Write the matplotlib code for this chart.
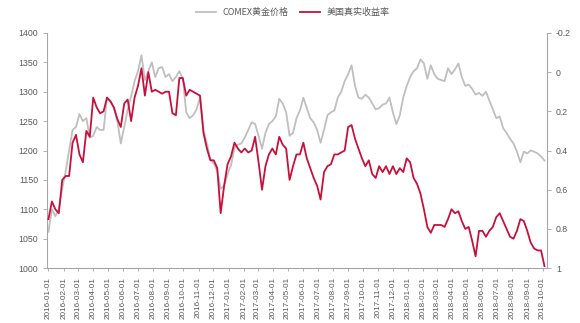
import pandas as pd
import matplotlib
matplotlib.use('Agg')
import matplotlib.pyplot as plt
import matplotlib.dates as mdates
from matplotlib.ticker import FuncFormatter

plt.rcParams['font.family'] = ['Liberation Sans', 'Noto Sans CJK SC', 'DejaVu Sans']

# weekly observations, 2016-01-01 .. 2018-10-05
dates = pd.date_range('2016-01-01', '2018-10-05', freq='7D')

gold = [
    1062, 1100, 1088, 1100, 1135, 1165, 1200, 1235, 1240, 1262,
    1250, 1255, 1222, 1225, 1240, 1235, 1235, 1290, 1285, 1272,
    1250, 1212, 1240, 1270, 1292, 1318, 1335, 1362, 1320, 1335,
    1350, 1325, 1340, 1342, 1325, 1330, 1318, 1325, 1335, 1322,
    1265, 1255, 1260, 1270, 1290, 1235, 1212, 1185, 1178, 1165,
    1135, 1140, 1160, 1175, 1205, 1210, 1212, 1222, 1235, 1248,
    1245, 1225, 1203, 1230, 1245, 1250, 1258, 1288, 1280, 1265,
    1225, 1230, 1255, 1268, 1290, 1272, 1255, 1248, 1235, 1213,
    1235, 1260, 1265, 1268, 1290, 1300, 1318, 1330, 1345, 1310,
    1290, 1288, 1295, 1290, 1280, 1270, 1272, 1278, 1280, 1290,
    1265, 1245, 1260, 1290, 1310, 1325, 1335, 1340, 1355, 1348,
    1322, 1345, 1330, 1322, 1320, 1318, 1340, 1330, 1338, 1348,
    1325, 1310, 1312, 1305, 1295, 1298, 1293, 1300, 1285, 1270,
    1255, 1258, 1238, 1230, 1220, 1212, 1198, 1180, 1198, 1195,
    1200, 1198, 1195, 1190, 1183,
]

real_yield = [
    0.75, 0.66, 0.70, 0.72, 0.55, 0.53, 0.53, 0.36, 0.32, 0.42,
    0.46, 0.30, 0.33, 0.13, 0.18, 0.21, 0.20, 0.13, 0.15, 0.18,
    0.24, 0.28, 0.16, 0.14, 0.25, 0.13, 0.07, -0.02, 0.12, 0.00,
    0.10, 0.09, 0.10, 0.11, 0.10, 0.10, 0.21, 0.22, 0.03, 0.03,
    0.12, 0.09, 0.10, 0.11, 0.12, 0.31, 0.39, 0.45, 0.45, 0.49,
    0.72, 0.58, 0.47, 0.43, 0.36, 0.39, 0.41, 0.39, 0.41, 0.40,
    0.33, 0.46, 0.60, 0.48, 0.42, 0.39, 0.42, 0.33, 0.37, 0.39,
    0.55, 0.48, 0.42, 0.42, 0.36, 0.44, 0.49, 0.54, 0.58, 0.65,
    0.51, 0.48, 0.47, 0.42, 0.42, 0.41, 0.40, 0.28, 0.27, 0.34,
    0.39, 0.44, 0.48, 0.45, 0.52, 0.54, 0.48, 0.51, 0.48, 0.52,
    0.48, 0.52, 0.49, 0.51, 0.44, 0.46, 0.54, 0.57, 0.62, 0.70,
    0.79, 0.82, 0.78, 0.78, 0.78, 0.79, 0.75, 0.70, 0.72, 0.71,
    0.76, 0.80, 0.79, 0.86, 0.94, 0.81, 0.81, 0.84, 0.81, 0.79,
    0.74, 0.72, 0.76, 0.80, 0.84, 0.85, 0.81, 0.75, 0.76, 0.81,
    0.87, 0.90, 0.91, 0.91, 0.99,
]

gold_label = 'COMEX黄金价格'
yield_label = '美国真实收益率'
left_ticks = [1000, 1050, 1100, 1150, 1200, 1250, 1300, 1350, 1400]
right_ticks = [-0.2, 0, 0.2, 0.4, 0.6, 0.8, 1]

grey_txt = '#595959'
spine_col = '#a6a6a6'

fig = plt.figure(figsize=(5.8, 3.23), dpi=100)
ax = fig.add_axes([0.081, 0.170, 0.862, 0.728])
ax2 = ax.twinx()

l1, = ax.plot(dates, gold, color='#bfbfbf', lw=1.3)
l2, = ax2.plot(dates, real_yield, color='#c8103c', lw=1.3)

ax.set_ylim(1000, 1400)
ax.set_yticks(left_ticks)
ax2.set_ylim(1, -0.2)
ax2.set_yticks(right_ticks)
ax2.yaxis.set_major_formatter(FuncFormatter(lambda v, p: '%g' % round(v, 1)))

ax.set_xlim(pd.Timestamp('2015-12-29'), pd.Timestamp('2018-10-10'))
ax.xaxis.set_major_locator(mdates.MonthLocator())
ax.xaxis.set_major_formatter(mdates.DateFormatter('%Y-%m-%d'))

for a in (ax, ax2):
    a.spines['top'].set_visible(False)
    for s in ('left', 'right', 'bottom'):
        a.spines[s].set_color(spine_col)
        a.spines[s].set_linewidth(0.8)
    a.tick_params(colors=grey_txt, labelsize=6.3, length=3, width=0.6)
    a.tick_params(axis='both', color=spine_col)
ax.spines['right'].set_visible(False)
ax2.spines['left'].set_visible(False)
ax2.spines['bottom'].set_visible(False)
ax.tick_params(axis='x', labelsize=5.9, labelrotation=90, length=2.5, pad=4)

fig.legend([l1, l2], [gold_label, yield_label], loc='upper center',
           bbox_to_anchor=(0.505, 1.0), ncol=2, frameon=False,
           prop={'family': ['Noto Sans CJK SC'], 'size': 6.5},
           labelcolor=grey_txt, handlelength=2.2, columnspacing=1.2)

fig.savefig('out.png', dpi=100)
